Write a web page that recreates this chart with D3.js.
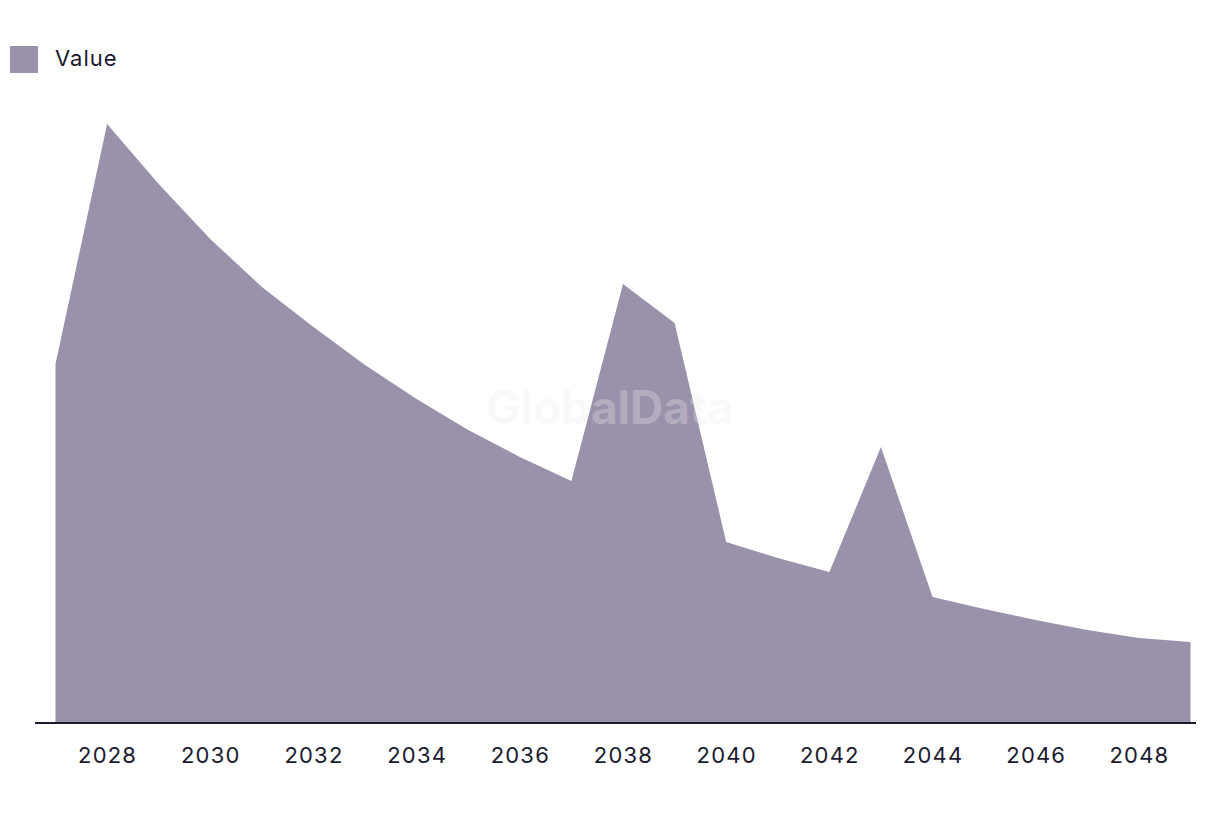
<!DOCTYPE html>
<html>
<head>
<meta charset="utf-8">
<script src="https://cdn.jsdelivr.net/npm/d3@7"></script>
<style>
  body { margin: 0; background: #fff; }
  text { font-family: Inter, "Noto Sans", sans-serif; }
</style>
</head>
<body>
<svg id="chart" width="1220" height="816"></svg>
<script>
const years = [2027, 2028, 2029, 2030, 2031, 2032, 2033, 2034, 2035, 2036, 2037, 2038,
  2039, 2040, 2041, 2042, 2043, 2044, 2045, 2046, 2047, 2048, 2049];
const values = [35.9, 59.9, 53.9, 48.4, 43.6, 39.6, 35.8, 32.4, 29.3, 26.6, 24.2, 43.9,
  40.0, 18.1, 16.5, 15.1, 27.6, 12.6, 11.4, 10.3, 9.3, 8.5, 8.1];
const tickYears = [2028, 2030, 2032, 2034, 2036, 2038, 2040, 2042, 2044, 2046, 2048];
const seriesName = 'Value';

const fill = '#9a91aa';
const ink = '#1b1a30';

const svg = d3.select('#chart');
const data = years.map((y, i) => ({ year: y, value: values[i] }));

const x = d3.scaleLinear()
  .domain([2027, 2049])
  .range([55.5, 1190.5]);
const y = d3.scaleLinear()
  .domain([0, d3.max(values)])
  .range([723, 124]);

const area = d3.area()
  .x(d => x(d.year))
  .y0(y(0))
  .y1(d => y(d.value));

svg.append('path')
  .datum(data)
  .attr('fill', fill)
  .attr('d', area);

// watermark
svg.append('text')
  .attr('x', 610)
  .attr('y', 424)
  .attr('text-anchor', 'middle')
  .attr('font-size', 46)
  .attr('font-weight', 'bold')
  .attr('fill', '#ececec')
  .attr('opacity', 0.3)
  .text('GlobalData');

// x axis
const axis = svg.append('g')
  .attr('transform', 'translate(0,723)')
  .call(d3.axisBottom(x).tickValues(tickYears).tickFormat(d3.format('d')).tickSize(0).tickPadding(24));
axis.select('.domain').remove();
axis.selectAll('text')
  .attr('font-size', 22)
  .attr('fill', ink)
  .style('letter-spacing', '1.2px')
  .style('font-family', 'Inter, "Noto Sans", sans-serif');

svg.append('line')
  .attr('x1', 35).attr('x2', 1196)
  .attr('y1', 723).attr('y2', 723)
  .attr('stroke', ink)
  .attr('stroke-width', 2);

// legend
svg.append('rect')
  .attr('x', 10).attr('y', 46)
  .attr('width', 28).attr('height', 27)
  .attr('fill', fill);
svg.append('text')
  .attr('x', 55).attr('y', 66)
  .attr('font-size', 22)
  .attr('fill', ink)
  .style('letter-spacing', '1px')
  .text(seriesName);
</script>
</body>
</html>
